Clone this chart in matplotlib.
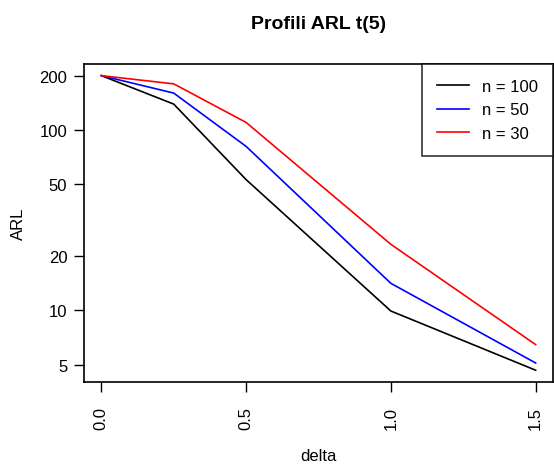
import matplotlib
matplotlib.use("Agg")
import matplotlib.pyplot as plt
from matplotlib.ticker import FixedLocator, FixedFormatter, NullLocator

plt.rcParams["font.family"] = ["Liberation Sans", "DejaVu Sans"]

# ARL profiles under t(5) data, for three sample sizes
delta = [0.0, 0.25, 0.5, 1.0, 1.5]
arl_n100 = [200, 139, 53, 9.9, 4.65]
arl_n50 = [200, 160, 81, 14.1, 5.1]
arl_n30 = [200, 180, 110, 23.2, 6.45]

series = [("n = 100", arl_n100, "black"),
          ("n = 50", arl_n50, "blue"),
          ("n = 30", arl_n30, "red")]

x_ticks = [0.0, 0.5, 1.0, 1.5]
y_ticks = [5, 10, 20, 50, 100, 200]

W, H = 554, 477
fig = plt.figure(figsize=(W / 100, H / 100), dpi=100)
ax = fig.add_axes([84 / W, 1 - 383 / H, (553 - 84) / W, (383 - 65) / H])

for label, vals, col in series:
    ax.plot(delta, vals, color=col, lw=1.2, label=label)

ax.set_yscale("log")
ax.set_xlim(-0.06, 1.56)
ax.set_ylim(4.0, 232)
ax.yaxis.set_major_locator(FixedLocator(y_ticks))
ax.yaxis.set_major_formatter(FixedFormatter([str(v) for v in y_ticks]))
ax.yaxis.set_minor_locator(NullLocator())
ax.set_xticks(x_ticks)
ax.set_xticklabels([f"{v:.1f}" for v in x_ticks], rotation=90)

for s in ax.spines.values():
    s.set_linewidth(1.2)
ax.tick_params(axis="both", length=7, width=1.0, labelsize=12, direction="out")
ax.tick_params(axis="x", pad=10)
ax.tick_params(axis="y", pad=5)

ax.set_title("Profili ARL t(5)", fontsize=14, fontweight="bold", pad=26)
ax.set_xlabel("delta", fontsize=12, labelpad=14)
ax.set_ylabel("ARL", fontsize=12, labelpad=10)

leg = ax.legend(loc="upper right", borderaxespad=0, fancybox=False,
                fontsize=12, handlelength=1.9, handletextpad=0.8,
                borderpad=0.9, labelspacing=0.5)
leg.get_frame().set_edgecolor("black")
leg.get_frame().set_linewidth(1.2)

fig.savefig("out.png", dpi=100)
